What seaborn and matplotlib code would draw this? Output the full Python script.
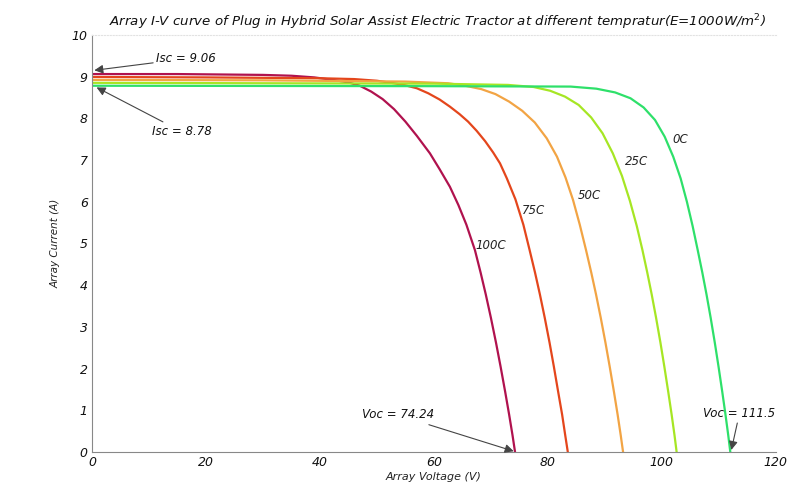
import pandas as pd
import matplotlib
matplotlib.use("Agg")
import matplotlib.pyplot as plt
import seaborn as sns

# Data kurva I-V
v_100 = [0, 15, 30, 35, 39, 42.3, 45, 47, 49, 51, 53, 55, 57, 59.3, 61, 62.8, 64.3, 65.7,
         67.2, 68.2, 69.1, 70.0, 70.9, 71.7, 72.5, 73.2, 73.8, 74.24]
i_100 = [9.06, 9.06, 9.04, 9.02, 8.98, 8.92, 8.86, 8.78, 8.64, 8.46, 8.22, 7.92, 7.58, 7.16, 6.78, 6.36, 5.92, 5.45,
         4.84, 4.30, 3.78, 3.22, 2.62, 2.05, 1.45, 0.90, 0.40, 0.0]

v_75 = [0, 20, 40, 46, 50, 53, 55, 57, 59, 61, 62.8, 64.5, 66, 67.5, 69, 70.4, 71.6, 72.8, 74.3, 75.7,
        76.8, 77.75, 78.6, 79.45, 80.3, 81.05, 81.8, 82.5, 83.05, 83.5]
i_75 = [8.99, 8.98, 8.96, 8.94, 8.90, 8.84, 8.79, 8.72, 8.60, 8.45, 8.28, 8.10, 7.92, 7.70, 7.45, 7.18, 6.92, 6.56, 6.06, 5.45,
        4.84, 4.30, 3.78, 3.22, 2.62, 2.05, 1.45, 0.90, 0.40, 0.0]

v_50 = [0, 30, 55, 62.5, 65.5, 68.3, 70.8, 73.2, 75.5, 77.7, 79.8, 81.6, 83.1, 84.4, 85.6,
        86.7, 87.62, 88.45, 89.28, 90.11, 90.85, 91.59, 92.24, 92.79, 93.2]
i_50 = [8.92, 8.91, 8.88, 8.84, 8.78, 8.70, 8.58, 8.40, 8.18, 7.90, 7.52, 7.08, 6.58, 6.05, 5.45,
        4.84, 4.30, 3.78, 3.22, 2.62, 2.05, 1.45, 0.90, 0.40, 0.0]

v_25 = [0, 30, 60, 73, 77.5, 80.4, 83.0, 85.4, 87.6, 89.6, 91.4, 93.0, 94.4, 95.6,
        96.6, 97.45, 98.22, 98.99, 99.76, 100.44, 101.12, 101.72, 102.23, 102.6]
i_25 = [8.85, 8.84, 8.83, 8.80, 8.75, 8.66, 8.52, 8.32, 8.02, 7.64, 7.16, 6.62, 6.02, 5.42,
        4.84, 4.30, 3.78, 3.22, 2.62, 2.05, 1.45, 0.90, 0.40, 0.0]

v_0 = [0, 60, 84, 88.5, 91.8, 94.5, 96.8, 98.8, 100.5, 102.0, 103.3, 104.4, 105.4,
       106.3, 107.11, 107.84, 108.57, 109.3, 109.95, 110.6, 111.17, 111.66, 112.02]
i_0 = [8.78, 8.77, 8.76, 8.71, 8.62, 8.48, 8.26, 7.96, 7.56, 7.08, 6.56, 6.00, 5.42,
       4.84, 4.30, 3.78, 3.22, 2.62, 2.05, 1.45, 0.90, 0.40, 0.0]

suhu = ['0C', '25C', '50C', '75C', '100C']
warna = ['#2ee06a', '#a6e624', '#f2a444', '#e4461c', '#b0124e']
label_x = [101.9, 93.5, 85.3, 75.4, 67.2]
label_y = [7.48, 6.96, 6.16, 5.80, 4.96]

kurva = {'0C': (v_0, i_0), '25C': (v_25, i_25), '50C': (v_50, i_50),
         '75C': (v_75, i_75), '100C': (v_100, i_100)}

rows = []
for s in suhu:
    vv, ii = kurva[s]
    for a, b in zip(vv, ii):
        rows.append({'V': a, 'I': b, 'T': s})
data = pd.DataFrame(rows)

sns.set_style("white")
plt.rcParams['font.family'] = ['DejaVu Sans']

fig = plt.figure(figsize=(7.9, 4.84), dpi=100)
ax = fig.add_axes([0.1165, 0.066, 0.8655, 0.862])

sns.lineplot(data=data, x='V', y='I', hue='T', hue_order=suhu[::-1],
             palette=dict(zip(suhu, warna)), sort=False, estimator=None,
             linewidth=1.6, legend=False, ax=ax, solid_joinstyle='round')

ax.set_xlim(0, 120)
ax.set_ylim(0, 10)
ax.set_xticks(range(0, 121, 20))
ax.set_yticks(range(0, 11))
ax.tick_params(direction='in', length=4, color='#777', labelsize=9, pad=3)
for lab in ax.get_xticklabels() + ax.get_yticklabels():
    lab.set_fontstyle('italic')
    lab.set_color('#111')

ax.spines['right'].set_visible(False)
ax.spines['top'].set_color('#e2e2e2')
ax.spines['top'].set_linestyle(':')
ax.spines['left'].set_color('#888')
ax.spines['bottom'].set_color('#888')

ax.set_title('Array I-V curve of Plug in Hybrid Solar Assist Electric Tractor at different tempratur(E=1000W/m$^2$)',
             fontsize=9.6, style='italic', color='#111', pad=6, x=0.505)
ax.set_xlabel('Array Voltage (V)', fontsize=8, style='italic', color='#222', labelpad=2)
ax.set_ylabel('Array Current (A)', fontsize=7.5, style='italic', color='#222', labelpad=8)

# Label suhu
for s, x, y in zip(suhu, label_x, label_y):
    ax.text(x, y, s, fontsize=8.5, style='italic', color='#222', va='center', ha='left')

# Anotasi Isc dan Voc
panah = dict(arrowstyle='-|>', color='#444', lw=0.8, mutation_scale=13,
             shrinkA=0, shrinkB=0)
ax.annotate('Isc = 9.06', xy=(0.4, 9.15), xytext=(11.3, 9.43), fontsize=8.5,
            style='italic', color='#111', va='center', arrowprops=panah)
ax.annotate('Isc = 8.78', xy=(0.8, 8.74), xytext=(10.5, 7.68), fontsize=8.5,
            style='italic', color='#111', va='center', arrowprops=panah)
ax.annotate('Voc = 74.24', xy=(74.0, 0.02), xytext=(47.3, 0.89), fontsize=8.5,
            style='italic', color='#111', va='center', arrowprops=panah)
ax.annotate('Voc = 111.5', xy=(112.2, 0.05), xytext=(107.3, 0.93), fontsize=8.5,
            style='italic', color='#111', va='center', arrowprops=panah,
            annotation_clip=False)

plt.savefig('out.png', dpi=100)
